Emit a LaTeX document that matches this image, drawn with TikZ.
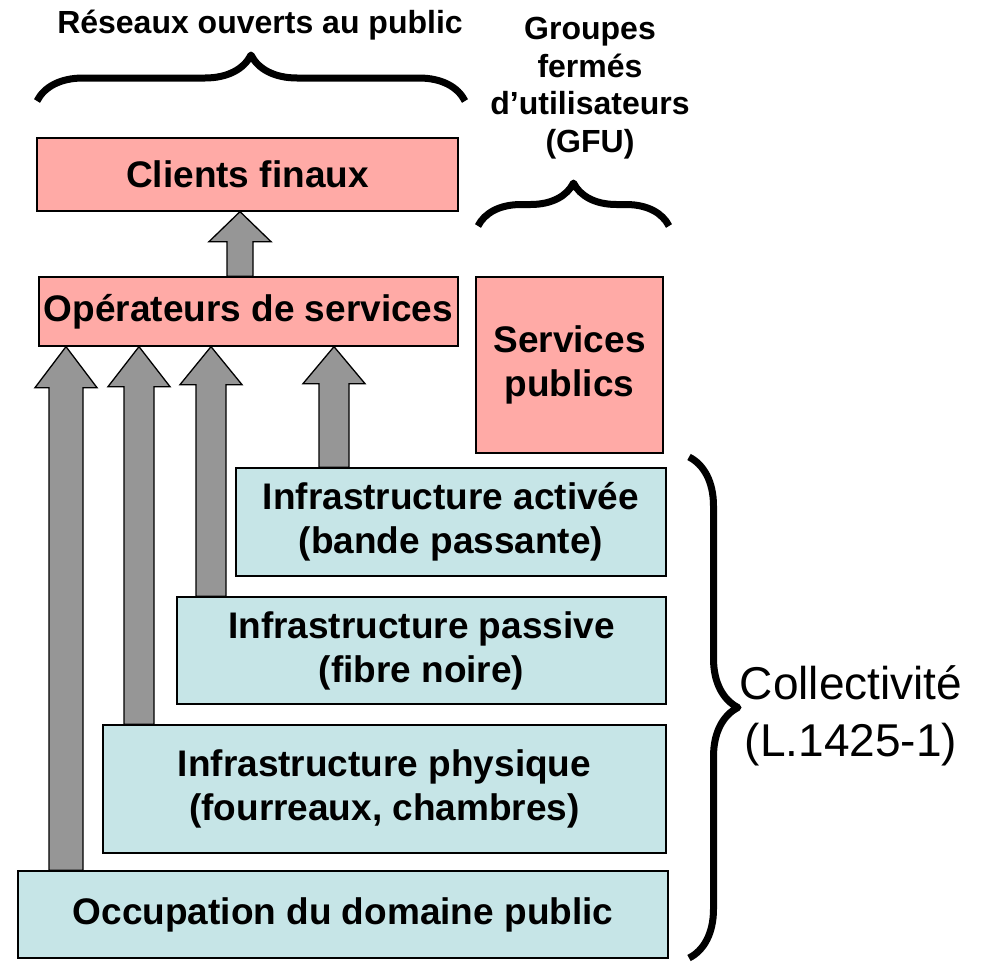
\documentclass[tikz,border=0pt]{standalone}
\usepackage{fontspec}
\setmainfont{Liberation Sans}
\usetikzlibrary{calc,decorations.pathreplacing}

\definecolor{rosebox}{RGB}{255,170,166}
\definecolor{bluebox}{RGB}{198,229,231}
\definecolor{arrowgray}{RGB}{150,150,150}

\tikzset{
        rbox/.style={draw=black, line width=1.3pt, fill=rosebox, inner sep=0pt, align=center,
                font=\fontsize{37}{44}\selectfont\bfseries},
        bbox/.style={rbox, fill=bluebox},
        fatarr/.style={draw=black, line width=1.3pt, fill=arrowgray},
        bigbrace/.style={decorate, decoration={brace, amplitude=#1}, line width=7pt, line join=round},
        bigbrace/.default=45pt
}

% #1 shaft half width, #2 head length, #3 foot, #4 tip
\newcommand{\fatarrow}[4]{%
        \draw[fatarr] let \p1=#3, \p2=#4 in
                (\x1-#1,\y1) -- (\x1-#1,\y2-#2) -- (\x1-31pt,\y2-#2) -- (\x2,\y2)
                -- (\x1+31pt,\y2-#2) -- (\x1+#1,\y2-#2) -- (\x1+#1,\y1) -- cycle;}

\begin{document}
\begin{tikzpicture}[x=1pt, y=-1pt]
        \useasboundingbox (0,0) rectangle (987,961);
        \node[rbox, minimum width=421pt, minimum height=73pt] (clients) at (247.5,174.5) {Clients finaux};
        \node[rbox, minimum width=419pt, minimum height=69pt] (ops) at (248.5,311.5) {Opérateurs de services};
        \node[rbox, minimum width=187pt, minimum height=176pt] (spub) at (569.5,365) {Services\\publics};
        \node[bbox, minimum width=430pt, minimum height=108pt] (act) at (451,522) {Infrastructure activée\\(bande passante)};
        \node[bbox, minimum width=489pt, minimum height=107pt] (pas) at (421.5,650.5) {Infrastructure passive\\(fibre noire)};
        \node[bbox, minimum width=563pt, minimum height=128pt] (phy) at (384.5,789) {Infrastructure physique\\(fourreaux, chambres)};
        \node[bbox, minimum width=650pt, minimum height=87pt] (occ) at (343,914.5) {Occupation du domaine public};

        \fatarrow{13pt}{30pt}{(ops.north -| 240,0)}{(clients.south -| 240,0)}
        \fatarrow{17pt}{41pt}{(occ.north -| 66,0)}{(ops.south -| 66,0)}
        \fatarrow{15pt}{40pt}{(phy.north -| 139,0)}{(ops.south -| 139,0)}
        \fatarrow{15pt}{38pt}{(pas.north -| 211,0)}{(ops.south -| 211,0)}
        \fatarrow{15pt}{37pt}{(act.north -| 334,0)}{(ops.south -| 334,0)}

        \node[font=\fontsize{32}{38}\selectfont\bfseries] (rop) at (260,25) {Réseaux ouverts au public};
        \node[align=center, inner sep=0pt, font=\fontsize{32}{37.5}\selectfont\bfseries] (gfu) at (590,88)
                {Groupes\\fermés\\d’utilisateurs\\(GFU)};
        \node[align=center, inner sep=0pt, font=\fontsize{46}{57}\selectfont] (coll) at (851,716)
                {Collectivité\\(L.1425-1)};

        \draw[bigbrace=46pt] (37,101) -- (465,101);
        \draw[bigbrace=43pt] (478,226) -- (669,226);
        \draw[bigbrace=49pt] (689,457) -- (689,958);
\end{tikzpicture}
\end{document}
